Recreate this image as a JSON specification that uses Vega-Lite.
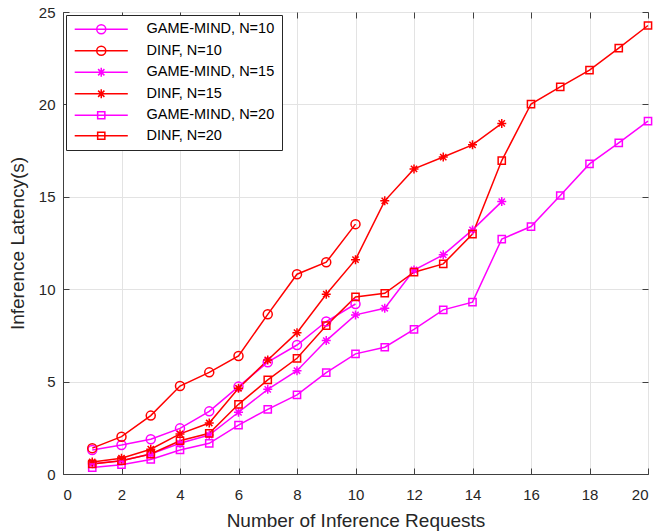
{
  "$schema": "https://vega.github.io/schema/vega-lite/v6.json",
  "width": 585,
  "height": 462,
  "autosize": {"type": "none"},
  "padding": {"left": 63, "top": 12, "right": 9, "bottom": 57},
  "background": "white",
  "config": {
    "font": "Liberation Sans",
    "view": {"stroke": "#404040", "strokeWidth": 1},
    "axis": {
      "labelFont": "Liberation Sans",
      "titleFont": "Liberation Sans",
      "labelFontSize": 15,
      "titleFontSize": 19,
      "titleFontWeight": "normal",
      "labelColor": "#262626",
      "titleColor": "#262626",
      "domainColor": "#404040",
      "tickColor": "#404040",
      "gridColor": "#e3e3e3",
      "gridWidth": 1
    },
    "legend": {
      "labelFont": "Liberation Sans",
      "labelFontSize": 14.5,
      "labelColor": "#000000",
      "title": null,
      "orient": "top-left",
      "offset": 3,
      "padding": 7,
      "strokeColor": "#262626",
      "fillColor": "white",
      "symbolSize": 81,
      "symbolStrokeWidth": 1.5,
      "symbolOpacity": 1,
      "symbolOffset": 21,
      "labelOffset": 38,
      "rowPadding": 5.5,
      "labelLimit": 300
    }
  },
  "datasets": {
    "latency": [
      {"series": "GAME-MIND, N=10", "x": 1, "y": 1.3},
      {"series": "GAME-MIND, N=10", "x": 2, "y": 1.57},
      {"series": "GAME-MIND, N=10", "x": 3, "y": 1.88},
      {"series": "GAME-MIND, N=10", "x": 4, "y": 2.47},
      {"series": "GAME-MIND, N=10", "x": 5, "y": 3.39},
      {"series": "GAME-MIND, N=10", "x": 6, "y": 4.73},
      {"series": "GAME-MIND, N=10", "x": 7, "y": 6.05},
      {"series": "GAME-MIND, N=10", "x": 8, "y": 6.98},
      {"series": "GAME-MIND, N=10", "x": 9, "y": 8.25},
      {"series": "GAME-MIND, N=10", "x": 10, "y": 9.2},
      {"series": "DINF, N=10", "x": 1, "y": 1.4},
      {"series": "DINF, N=10", "x": 2, "y": 2.02},
      {"series": "DINF, N=10", "x": 3, "y": 3.16},
      {"series": "DINF, N=10", "x": 4, "y": 4.76},
      {"series": "DINF, N=10", "x": 5, "y": 5.5},
      {"series": "DINF, N=10", "x": 6, "y": 6.39},
      {"series": "DINF, N=10", "x": 7, "y": 8.64},
      {"series": "DINF, N=10", "x": 8, "y": 10.81},
      {"series": "DINF, N=10", "x": 9, "y": 11.46},
      {"series": "DINF, N=10", "x": 10, "y": 13.52},
      {"series": "GAME-MIND, N=15", "x": 1, "y": 0.55},
      {"series": "GAME-MIND, N=15", "x": 2, "y": 0.72},
      {"series": "GAME-MIND, N=15", "x": 3, "y": 1.08},
      {"series": "GAME-MIND, N=15", "x": 4, "y": 1.66},
      {"series": "GAME-MIND, N=15", "x": 5, "y": 2.11},
      {"series": "GAME-MIND, N=15", "x": 6, "y": 3.34},
      {"series": "GAME-MIND, N=15", "x": 7, "y": 4.58},
      {"series": "GAME-MIND, N=15", "x": 8, "y": 5.59},
      {"series": "GAME-MIND, N=15", "x": 9, "y": 7.22},
      {"series": "GAME-MIND, N=15", "x": 10, "y": 8.61},
      {"series": "GAME-MIND, N=15", "x": 11, "y": 8.97},
      {"series": "GAME-MIND, N=15", "x": 12, "y": 11.04},
      {"series": "GAME-MIND, N=15", "x": 13, "y": 11.86},
      {"series": "GAME-MIND, N=15", "x": 14, "y": 13.21},
      {"series": "GAME-MIND, N=15", "x": 15, "y": 14.74},
      {"series": "DINF, N=15", "x": 1, "y": 0.65},
      {"series": "DINF, N=15", "x": 2, "y": 0.85},
      {"series": "DINF, N=15", "x": 3, "y": 1.34},
      {"series": "DINF, N=15", "x": 4, "y": 2.17},
      {"series": "DINF, N=15", "x": 5, "y": 2.76},
      {"series": "DINF, N=15", "x": 6, "y": 4.64},
      {"series": "DINF, N=15", "x": 7, "y": 6.17},
      {"series": "DINF, N=15", "x": 8, "y": 7.65},
      {"series": "DINF, N=15", "x": 9, "y": 9.73},
      {"series": "DINF, N=15", "x": 10, "y": 11.6},
      {"series": "DINF, N=15", "x": 11, "y": 14.78},
      {"series": "DINF, N=15", "x": 12, "y": 16.51},
      {"series": "DINF, N=15", "x": 13, "y": 17.15},
      {"series": "DINF, N=15", "x": 14, "y": 17.81},
      {"series": "DINF, N=15", "x": 15, "y": 18.97},
      {"series": "GAME-MIND, N=20", "x": 1, "y": 0.35},
      {"series": "GAME-MIND, N=20", "x": 2, "y": 0.5},
      {"series": "GAME-MIND, N=20", "x": 3, "y": 0.79},
      {"series": "GAME-MIND, N=20", "x": 4, "y": 1.3},
      {"series": "GAME-MIND, N=20", "x": 5, "y": 1.66},
      {"series": "GAME-MIND, N=20", "x": 6, "y": 2.65},
      {"series": "GAME-MIND, N=20", "x": 7, "y": 3.5},
      {"series": "GAME-MIND, N=20", "x": 8, "y": 4.28},
      {"series": "GAME-MIND, N=20", "x": 9, "y": 5.49},
      {"series": "GAME-MIND, N=20", "x": 10, "y": 6.5},
      {"series": "GAME-MIND, N=20", "x": 11, "y": 6.86},
      {"series": "GAME-MIND, N=20", "x": 12, "y": 7.83},
      {"series": "GAME-MIND, N=20", "x": 13, "y": 8.88},
      {"series": "GAME-MIND, N=20", "x": 14, "y": 9.3},
      {"series": "GAME-MIND, N=20", "x": 15, "y": 12.71},
      {"series": "GAME-MIND, N=20", "x": 16, "y": 13.39},
      {"series": "GAME-MIND, N=20", "x": 17, "y": 15.07},
      {"series": "GAME-MIND, N=20", "x": 18, "y": 16.78},
      {"series": "GAME-MIND, N=20", "x": 19, "y": 17.92},
      {"series": "GAME-MIND, N=20", "x": 20, "y": 19.1},
      {"series": "DINF, N=20", "x": 1, "y": 0.54},
      {"series": "DINF, N=20", "x": 2, "y": 0.72},
      {"series": "DINF, N=20", "x": 3, "y": 1.08},
      {"series": "DINF, N=20", "x": 4, "y": 1.8},
      {"series": "DINF, N=20", "x": 5, "y": 2.2},
      {"series": "DINF, N=20", "x": 6, "y": 3.77},
      {"series": "DINF, N=20", "x": 7, "y": 5.09},
      {"series": "DINF, N=20", "x": 8, "y": 6.26},
      {"series": "DINF, N=20", "x": 9, "y": 8.03},
      {"series": "DINF, N=20", "x": 10, "y": 9.58},
      {"series": "DINF, N=20", "x": 11, "y": 9.78},
      {"series": "DINF, N=20", "x": 12, "y": 10.92},
      {"series": "DINF, N=20", "x": 13, "y": 11.37},
      {"series": "DINF, N=20", "x": 14, "y": 12.98},
      {"series": "DINF, N=20", "x": 15, "y": 16.96},
      {"series": "DINF, N=20", "x": 16, "y": 20.02},
      {"series": "DINF, N=20", "x": 17, "y": 20.95},
      {"series": "DINF, N=20", "x": 18, "y": 21.86},
      {"series": "DINF, N=20", "x": 19, "y": 23.05},
      {"series": "DINF, N=20", "x": 20, "y": 24.27}
    ]
  },
  "data": {"name": "latency"},
  "layer": [
    {
      "mark": {"type": "line", "strokeWidth": 1.5},
      "encoding": {
        "x": {
          "field": "x",
          "type": "quantitative",
          "scale": {"domain": [0, 20], "nice": false},
          "axis": {
            "orient": "bottom",
            "values": [0, 2, 4, 6, 8, 10, 12, 14, 16, 18, 20],
            "title": "Number of Inference Requests",
            "grid": true,
            "tickSize": -6,
            "labelPadding": 19,
            "titlePadding": 9
          }
        },
        "y": {
          "field": "y",
          "type": "quantitative",
          "scale": {"domain": [0, 25], "nice": false},
          "axis": {
            "orient": "left",
            "values": [0, 5, 10, 15, 20, 25],
            "title": "Inference Latency(s)",
            "grid": true,
            "tickSize": -6,
            "labelPadding": 14,
            "titlePadding": 11
          }
        },
        "color": {
          "field": "series",
          "type": "nominal",
          "scale": {
            "domain": ["GAME-MIND, N=10", "DINF, N=10", "GAME-MIND, N=15", "DINF, N=15", "GAME-MIND, N=20", "DINF, N=20"],
            "range": ["#ff00ff", "#ff0000", "#ff00ff", "#ff0000", "#ff00ff", "#ff0000"]
          },
          "legend": null
        },
        "detail": {"field": "series"}
      }
    },
    {
      "mark": {"type": "point", "filled": false, "strokeWidth": 1.5, "size": 81, "opacity": 1},
      "encoding": {
        "x": {
          "field": "x",
          "type": "quantitative",
          "axis": {"orient": "top", "values": [0, 2, 4, 6, 8, 10, 12, 14, 16, 18, 20], "labels": false, "domain": false, "grid": false, "tickSize": -6, "title": null}
        },
        "y": {
          "field": "y",
          "type": "quantitative",
          "axis": {"orient": "right", "values": [0, 5, 10, 15, 20, 25], "labels": false, "domain": false, "grid": false, "tickSize": -6, "title": null}
        },
        "color": {
          "field": "series",
          "type": "nominal",
          "scale": {
            "domain": ["GAME-MIND, N=10", "DINF, N=10", "GAME-MIND, N=15", "DINF, N=15", "GAME-MIND, N=20", "DINF, N=20"],
            "range": ["#ff00ff", "#ff0000", "#ff00ff", "#ff0000", "#ff00ff", "#ff0000"]
          },
          "legend": null
        },
        "shape": {
          "field": "series",
          "type": "nominal",
          "scale": {
            "domain": ["GAME-MIND, N=10", "DINF, N=10", "GAME-MIND, N=15", "DINF, N=15", "GAME-MIND, N=20", "DINF, N=20"],
            "range": [
              "M1,0A1,1,0,1,1,-1,0A1,1,0,1,1,1,0Z",
              "M1,0A1,1,0,1,1,-1,0A1,1,0,1,1,1,0Z",
              "M-1,0H1M0,-1V1M-0.7,-0.7L0.7,0.7M-0.7,0.7L0.7,-0.7",
              "M-1,0H1M0,-1V1M-0.7,-0.7L0.7,0.7M-0.7,0.7L0.7,-0.7",
              "M-0.8,-0.8H0.8V0.8H-0.8Z",
              "M-0.8,-0.8H0.8V0.8H-0.8Z"
            ]
          },
          "legend": null
        }
      }
    },
    {
      "mark": {"type": "point", "filled": false, "strokeWidth": 1.5, "size": 81, "opacity": 0},
      "encoding": {
        "x": {"field": "x", "type": "quantitative", "axis": null},
        "y": {"field": "y", "type": "quantitative", "axis": null},
        "color": {
          "field": "series",
          "type": "nominal",
          "scale": {
            "domain": ["GAME-MIND, N=10", "DINF, N=10", "GAME-MIND, N=15", "DINF, N=15", "GAME-MIND, N=20", "DINF, N=20"],
            "range": ["#ff00ff", "#ff0000", "#ff00ff", "#ff0000", "#ff00ff", "#ff0000"]
          }
        },
        "shape": {
          "field": "series",
          "type": "nominal",
          "scale": {
            "domain": ["GAME-MIND, N=10", "DINF, N=10", "GAME-MIND, N=15", "DINF, N=15", "GAME-MIND, N=20", "DINF, N=20"],
            "range": [
              "M-5.9,0H5.9M1,0A1,1,0,1,1,-1,0A1,1,0,1,1,1,0Z",
              "M-5.9,0H5.9M1,0A1,1,0,1,1,-1,0A1,1,0,1,1,1,0Z",
              "M-5.9,0H5.9M0,-1V1M-0.7,-0.7L0.7,0.7M-0.7,0.7L0.7,-0.7",
              "M-5.9,0H5.9M0,-1V1M-0.7,-0.7L0.7,0.7M-0.7,0.7L0.7,-0.7",
              "M-5.9,0H5.9M-0.8,-0.8H0.8V0.8H-0.8Z",
              "M-5.9,0H5.9M-0.8,-0.8H0.8V0.8H-0.8Z"
            ]
          }
        }
      }
    }
  ],
  "resolve": {
    "scale": {"color": "independent", "shape": "independent"},
    "axis": {"x": "independent", "y": "independent"}
  }
}
